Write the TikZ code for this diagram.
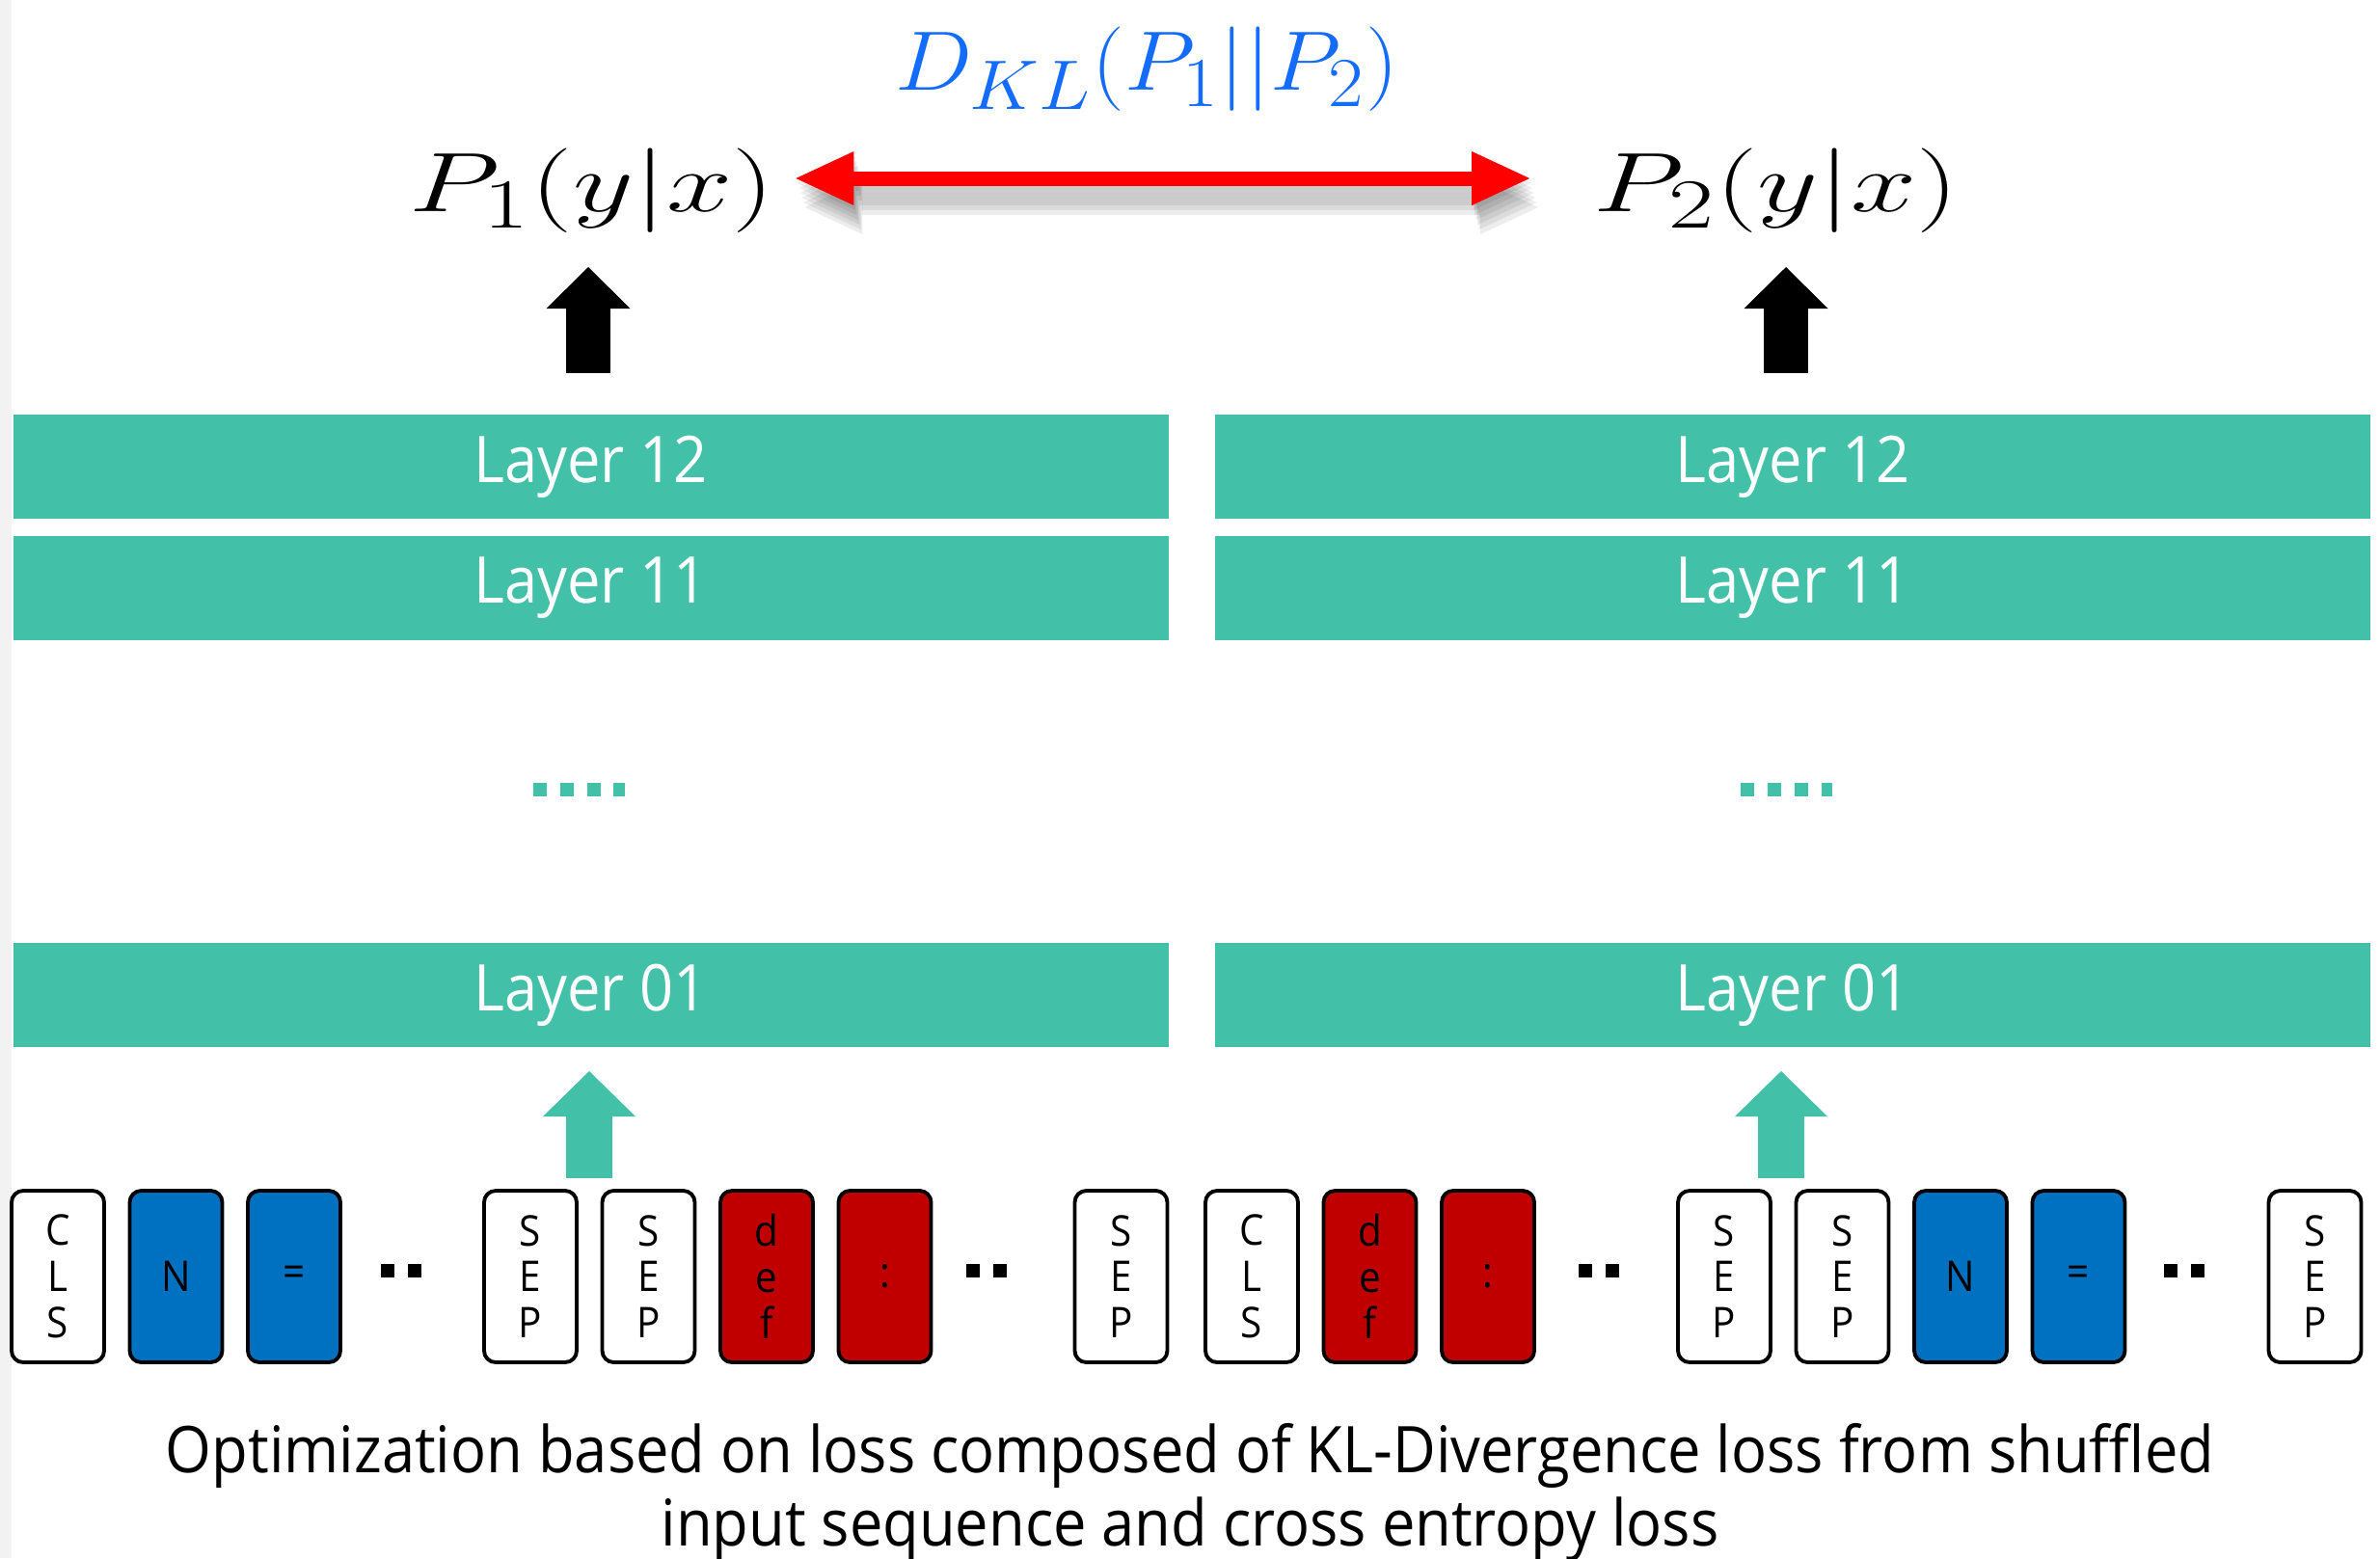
\documentclass[tikz,border=0pt]{standalone}
\usepackage[no-math]{fontspec}
\setmainfont{Open Sans}[FakeStretch=0.92]
\usetikzlibrary{arrows.meta}

\definecolor{layerteal}{RGB}{66,193,168}
\definecolor{tokblue}{RGB}{0,112,192}
\definecolor{tokred}{RGB}{192,0,0}
\definecolor{klblue}{RGB}{20,108,255}

\begin{document}
\begin{tikzpicture}[
    layer/.style={rectangle, fill=layerteal, minimum width=11.98cm, minimum height=1.08cm, inner sep=0pt, text=white, font=\fontsize{19}{22}\selectfont},
    token/.style={rectangle, draw, rounded corners=0.12cm, line width=1.1pt, minimum width=0.96cm, minimum height=1.78cm, inner sep=0pt, align=center, font=\fontsize{12.5}{13.6}\selectfont},
    bluetok/.style={token, fill=tokblue},
    redtok/.style={token, fill=tokred},
    prob/.style={inner sep=0pt, font=\fontsize{32}{38}\selectfont},
    tealarrow/.style={draw=layerteal, line width=0.48cm, -{Triangle[width=0.96cm, length=0.47cm, line width=0pt]}},
    blackarrow/.style={draw=black, line width=0.46cm, -{Triangle[width=0.87cm, length=0.43cm, line width=0pt]}},
    klarrow/.style={line width=0.15cm, shorten <=0.22cm, shorten >=0.66cm, {Triangle[width=0.56cm, length=0.60cm, line width=0pt]}-{Triangle[width=0.56cm, length=0.60cm, line width=0pt]}}
  ]
    \useasboundingbox (0, 0) rectangle (24.68, -16.16);
    \fill[white] (0, 0) rectangle (24.68, -16.16);
    \fill[black!5] (0, 0) rectangle (0.12, -16.16);

    % layer stacks
    \node[layer] (L12_left) at (6.125, -4.84) {Layer 12};
    \node[layer] (L11_left) at (6.125, -6.095) {Layer 11};
    \node[layer] (L01_left) at (6.125, -10.32) {Layer 01};
    \node[layer] (L12_right) at (18.59, -4.84) {Layer 12};
    \node[layer] (L11_right) at (18.59, -6.095) {Layer 11};
    \node[layer] (L01_right) at (18.59, -10.32) {Layer 01};

    \fill[layerteal] (5.53, -8.12) rectangle (5.67, -8.26);
    \fill[layerteal] (5.81, -8.12) rectangle (5.95, -8.26);
    \fill[layerteal] (6.09, -8.12) rectangle (6.23, -8.26);
    \fill[layerteal] (6.36, -8.12) rectangle (6.48, -8.26);
    \fill[layerteal] (18.05, -8.12) rectangle (18.19, -8.26);
    \fill[layerteal] (18.33, -8.12) rectangle (18.47, -8.26);
    \fill[layerteal] (18.61, -8.12) rectangle (18.75, -8.26);
    \fill[layerteal] (18.89, -8.12) rectangle (19.00, -8.26);

    % input tokens (original order)
    \node[token] (CLS_left) at (0.60, -13.24) {C\\L\\S};
    \node[bluetok] (N_left) at (1.825, -13.24) {N};
    \node[bluetok] (EQ_left) at (3.05, -13.24) {=};
    \node[token] (SEPa_left) at (5.50, -13.24) {S\\E\\P};
    \node[token] (SEPb_left) at (6.725, -13.24) {S\\E\\P};
    \node[redtok] (DEF_left) at (7.95, -13.24) {d\\e\\f};
    \node[redtok] (COL_left) at (9.175, -13.24) {:};
    \node[token] (SEPc_left) at (11.625, -13.24) {S\\E\\P};

    % input tokens (shuffled order)
    \node[token] (CLS_right) at (12.98, -13.24) {C\\L\\S};
    \node[redtok] (DEF_right) at (14.205, -13.24) {d\\e\\f};
    \node[redtok] (COL_right) at (15.43, -13.24) {:};
    \node[token] (SEPa_right) at (17.88, -13.24) {S\\E\\P};
    \node[token] (SEPb_right) at (19.105, -13.24) {S\\E\\P};
    \node[bluetok] (N_right) at (20.33, -13.24) {N};
    \node[bluetok] (EQ_right) at (21.555, -13.24) {=};
    \node[token] (SEPc_right) at (24.005, -13.24) {S\\E\\P};

    \fill (3.95, -13.11) rectangle (4.09, -13.25);
    \fill (4.23, -13.11) rectangle (4.37, -13.25);
    \fill (10.02, -13.11) rectangle (10.16, -13.25);
    \fill (10.30, -13.11) rectangle (10.44, -13.25);
    \fill (16.37, -13.11) rectangle (16.51, -13.25);
    \fill (16.65, -13.11) rectangle (16.79, -13.25);
    \fill (22.44, -13.11) rectangle (22.58, -13.25);
    \fill (22.72, -13.11) rectangle (22.86, -13.25);

    % outputs
    \node[prob] (P1) at (6.135, -1.98) {\scalebox{1.4}[1]{$P_1(y|x)$}};
    \node[prob] (P2) at (18.42, -1.98) {\scalebox{1.4}[1]{$P_2(y|x)$}};
    \node[font=\fontsize{28}{32}\selectfont, text=klblue] (KL) at (11.89, -0.72) {\scalebox{1.09}[1]{$D_{KL}(P_1||P_2)$}};

    \coordinate (in_left) at (6.11, -12.22);
    \coordinate (out_left) at (6.11, -11.11);
    \coordinate (in_right) at (18.47, -12.22);
    \coordinate (out_right) at (18.47, -11.11);
    \coordinate (top_left) at (6.10, -3.87);
    \coordinate (head_left) at (6.10, -2.77);
    \coordinate (top_right) at (18.52, -3.87);
    \coordinate (head_right) at (18.52, -2.77);

    \draw[tealarrow] (in_left) -- (out_left);
    \draw[tealarrow] (in_right) -- (out_right);
    \draw[blackarrow] (top_left) -- (head_left);
    \draw[blackarrow] (top_right) -- (head_right);

    % soft shadow under the KL arrow
    \foreach \s in {0.05, 0.10, 0.15, 0.20, 0.25, 0.30}
      \draw[klarrow, draw=black, fill=black, opacity=0.07, transform canvas={xshift=0.3*\s cm, yshift=-\s cm}] ([yshift=1.3mm]P1.east) -- ([yshift=1.3mm]P2.west);
    \draw[klarrow, draw=red] ([yshift=1.3mm]P1.east) -- ([yshift=1.3mm]P2.west);

    \node[align=center, font=\fontsize{19}{21.8}\selectfont] (caption) at (12.34, -15.48) {Optimization based on loss composed of KL-Divergence loss from shuffled\\input sequence and cross entropy loss};

  \end{tikzpicture}
\end{document}
